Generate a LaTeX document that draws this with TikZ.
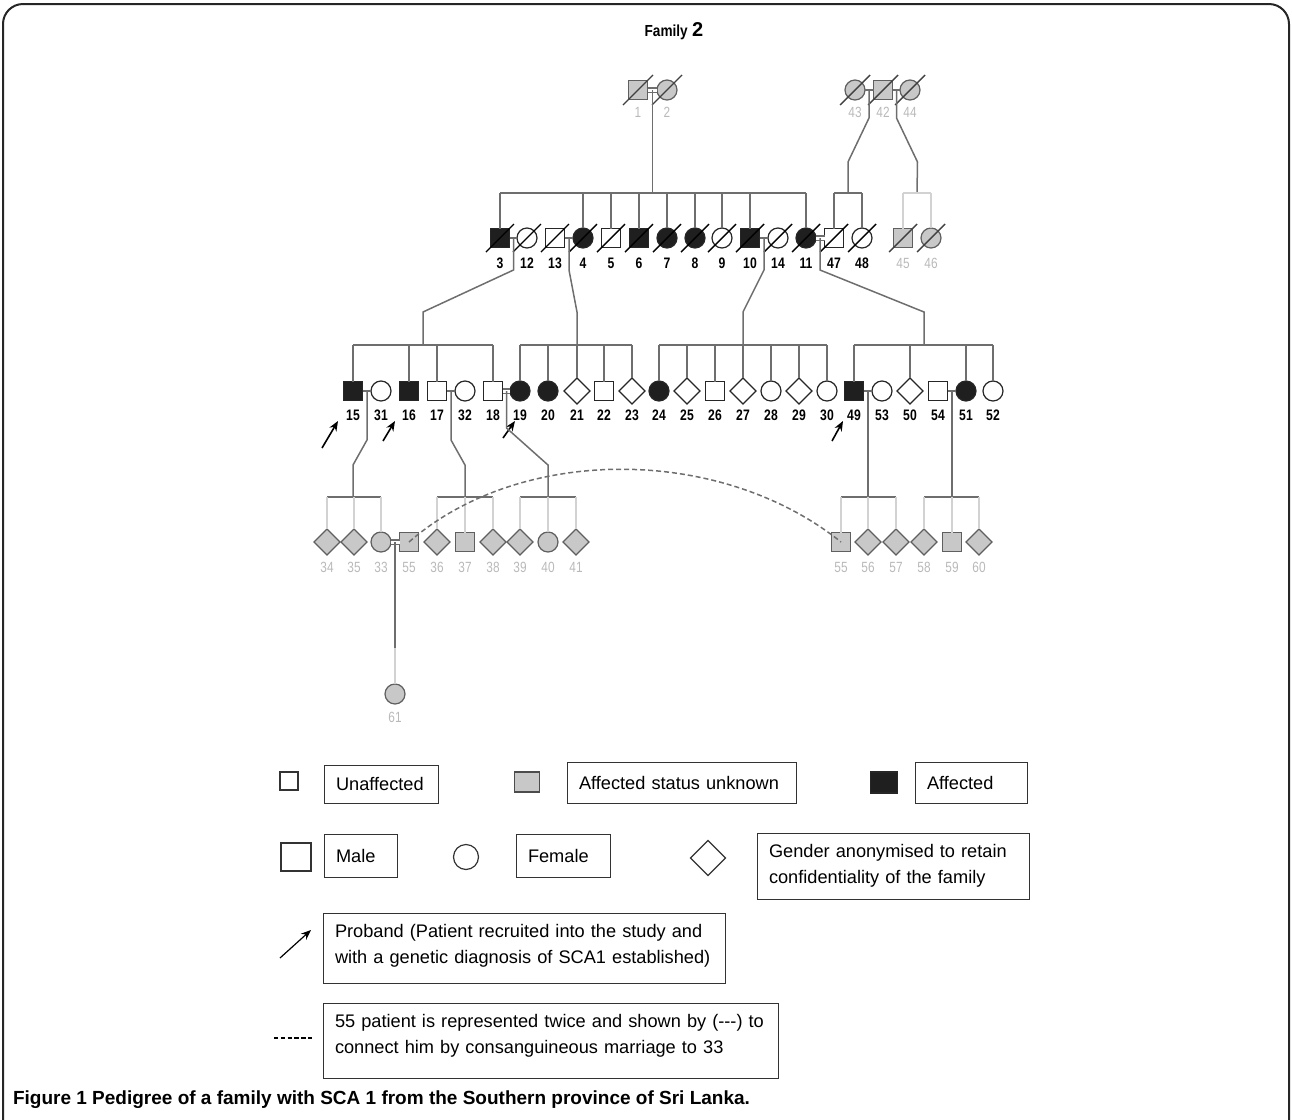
\documentclass[tikz,border=0pt]{standalone}
\usepackage{fontspec}
\setmainfont{Liberation Sans}
\usepackage{graphicx}
\usetikzlibrary{shapes.geometric}
\usetikzlibrary{calc}
\usetikzlibrary{arrows.meta}

\definecolor{linegray}{RGB}{110,110,110}
\definecolor{lightline}{RGB}{210,210,210}
\definecolor{unkfill}{RGB}{200,200,200}
\definecolor{unkdraw}{RGB}{95,95,95}
\definecolor{lblgray}{RGB}{185,185,185}

\newcommand{\pedno}[1]{\scalebox{0.8}[1]{#1}}
\hyphenpenalty=10000
\exhyphenpenalty=10000

\begin{document}
\begin{tikzpicture}[x=0.5pt,y=-0.5pt] % 1 unit = 1 pixel of the original figure
    \tikzstyle{ind}=[draw=black!85, line width=0.6pt, inner sep=0pt, outer sep=0pt]
    \tikzstyle{mU}=[ind, rectangle, minimum size=9.5pt, fill=white]
    \tikzstyle{mA}=[mU, fill=black!88]
    \tikzstyle{mG}=[mU, fill=unkfill, draw=unkdraw]
    \tikzstyle{fU}=[ind, circle, minimum size=10pt, fill=white]
    \tikzstyle{fA}=[fU, fill=black!88]
    \tikzstyle{fG}=[fU, fill=unkfill, draw=unkdraw]
    \tikzstyle{dU}=[ind, diamond, minimum size=13pt, fill=white]
    \tikzstyle{dG}=[dU, fill=unkfill, draw=unkdraw]
    \tikzstyle{num}=[font=\bfseries\fontsize{7.6}{9}\selectfont, inner sep=0pt]
    \tikzstyle{numg}=[font=\fontsize{7.4}{9}\selectfont, text=lblgray, inner sep=0pt]
    \tikzstyle{link}=[draw=linegray, line width=0.75pt]
    \tikzstyle{linkl}=[draw=lightline, line width=0.75pt]
    \tikzstyle{marr2}=[draw=linegray, line width=0.6pt, double=white, double distance=1.5pt]
    \tikzstyle{dead}=[line width=0.7pt, black]
    \tikzstyle{deadg}=[line width=0.7pt, black!75]
    \tikzstyle{proband}=[-{Stealth[length=5pt, width=4pt]}, line width=0.8pt, black]
    \tikzstyle{consang}=[draw=linegray, line width=0.75pt, dash pattern=on 2.5pt off 1.5pt]
    \tikzstyle{lgbox}=[draw=black!80, line width=0.5pt, inner xsep=6pt, inner ysep=0pt, align=left,
                       font=\fontsize{9.1}{13}\selectfont]

    \useasboundingbox (0,0) rectangle (1292,1120);
    \draw[line width=1pt, black!85, rounded corners=10] (3,1120) -- (3,4) -- (1289,4) -- (1289,1120);

    \node[font=\bfseries\fontsize{8}{9}\selectfont] (title) at (674,31) {\scalebox{0.85}[1]{Family} {\fontsize{10}{10}\selectfont 2}};

    % generation I
    \node[mG] (p1) at (638,90) {};
    \node[fG] (p2) at (667,90) {};
    \node[fG] (p43) at (855,90) {};
    \node[mG] (p42) at (883,90) {};
    \node[fG] (p44) at (910,90) {};
    \foreach \n/\x in {1/638, 2/667, 43/855, 42/883, 44/910} {
        \node[numg] (l\n) at (\x,112) {\pedno{\n}};
        \draw[deadg] ([shift={(-15,15)}]p\n.center) -- ([shift={(15,-15)}]p\n.center);
    }
    \draw[marr2] (p1) -- (p2);
    \draw[link] (p43) -- (p42);
    \draw[link] (p42) -- (p44);

    % generation II
    \foreach \n/\x/\s in {3/500/mA, 12/527/fU, 13/555/mU, 4/583/fA, 5/611/mU, 6/639/mA, 7/667/fA, 8/695/fA,
                          9/722/fU, 10/750/mA, 14/778/fU, 11/806/fA, 47/834/mU, 48/862/fU} {
        \node[\s] (p\n) at (\x,238) {};
        \node[num] (l\n) at (\x,263) {\pedno{\n}};
        \draw[dead] ([shift={(-14,14)}]p\n.center) -- ([shift={(14,-14)}]p\n.center);
    }
    \foreach \n/\x/\s in {45/903/mG, 46/931/fG} {
        \node[\s] (p\n) at (\x,238) {};
        \node[numg] (l\n) at (\x,263) {\pedno{\n}};
        \draw[deadg] ([shift={(-14,14)}]p\n.center) -- ([shift={(14,-14)}]p\n.center);
    }
    \coordinate (m1) at ($(p1)!.5!(p2)$);
    \coordinate (s3) at (652.5,193);
    \draw[link] (m1) -- (s3);
    \draw[link] (p3.north |- s3) -- (p11.north |- s3);
    \foreach \n in {3,4,5,6,7,8,9,10,11}
        \draw[link] (p\n.north) -- (p\n.north |- s3);
    \coordinate (m43) at ($(p43)!.5!(p42)$);
    \coordinate (s47) at (848,193);
    \draw[link] (m43) -- ++(0,28) -- ++(-21,44) -- (s47);
    \draw[link] (p47.north |- s47) -- (p48.north |- s47);
    \draw[link] (p47.north) -- (p47.north |- s47);
    \draw[link] (p48.north) -- (p48.north |- s47);
    \coordinate (m42) at ($(p42)!.5!(p44)$);
    \coordinate (s45) at (917,193);
    \draw[link] (m42) -- ++(0,28) -- ++(21,44) -- (s45);
    \draw[linkl] (p45.north |- s45) -- (p46.north |- s45);
    \draw[linkl] (p45.north) -- (p45.north |- s45);
    \draw[linkl] (p46.north) -- (p46.north |- s45);
    \draw[link] (p3) -- (p12);
    \draw[link] (p13) -- (p4);
    \draw[link] (p10) -- (p14);
    \draw[marr2] (p11) -- (p47);

    % generation III
    \foreach \n/\x/\s in {15/353/mA, 31/381/fU, 16/409/mA, 17/437/mU, 32/465/fU, 18/493/mU, 19/520/fA, 20/548/fA,
                          21/577/dU, 22/604/mU, 23/632/dU, 24/659/fA, 25/687/dU, 26/715/mU, 27/743/dU, 28/771/fU,
                          29/799/dU, 30/827/fU, 49/854/mA, 53/882/fU, 50/910/dU, 54/938/mU, 51/966/fA, 52/993/fU} {
        \node[\s] (p\n) at (\x,391) {};
        \node[num] (l\n) at (\x,415) {\pedno{\n}};
    }
    \coordinate (m3) at ($(p3)!.5!(p12)$);
    \coordinate (s15) at (423,345);
    \draw[link] (m3) -- ++(0,32) -- ++(-90.5,42) -- (s15);
    \draw[link] (p15.north |- s15) -- (p18.north |- s15);
    \foreach \n in {15,16,17,18}
        \draw[link] (p\n.north) -- (p\n.north |- s15);
    \coordinate (m13) at ($(p13)!.5!(p4)$);
    \coordinate (s19) at (577,345);
    \draw[link] (m13) -- ++(0,32) -- ++(8,42) -- (s19);
    \draw[link] (p19.north |- s19) -- (p23.north |- s19);
    \foreach \n in {19,20,21,22,23}
        \draw[link] (p\n.north) -- (p\n.north |- s19);
    \coordinate (m10) at ($(p10)!.5!(p14)$);
    \coordinate (s24) at (743,345);
    \draw[link] (m10) -- ++(0,32) -- ++(-21,42) -- (s24);
    \draw[link] (p24.north |- s24) -- (p30.north |- s24);
    \foreach \n in {24,25,26,27,28,29,30}
        \draw[link] (p\n.north) -- (p\n.north |- s24);
    \coordinate (m11) at ($(p11)!.5!(p47)$);
    \coordinate (s49) at (924,345);
    \draw[link] (m11) -- ++(0,32) -- ++(104,42) -- (s49);
    \draw[link] (p49.north |- s49) -- (p52.north |- s49);
    \foreach \n in {49,50,51,52}
        \draw[link] (p\n.north) -- (p\n.north |- s49);
    \draw[link] (p15) -- (p31);
    \draw[link] (p17) -- (p32);
    \draw[marr2] (p18) -- (p19);
    \draw[link] (p49) -- (p53);
    \draw[link] (p54) -- (p51);

    % probands
    \foreach \n/\tx/\ty/\hx/\hy in {15/322/448/338/421, 16/383/441/395/421, 19/503/438/515/421, 49/832/441/843/421} {
        \coordinate (a\n) at (\tx,\ty);
        \coordinate (h\n) at (\hx,\hy);
        \draw[proband] (a\n) -- (h\n);
    }

    % generation IV
    \foreach \n/\x/\s/\t in {34/327/dG/34, 35/354/dG/35, 33/381/fG/33, 55/409/mG/55, 36/437/dG/36, 37/465/mG/37,
                             38/493/dG/38, 39/520/dG/39, 40/548/fG/40, 41/576/dG/41, 55r/841/mG/55, 56/868/dG/56,
                             57/896/dG/57, 58/924/dG/58, 59/952/mG/59, 60/979/dG/60} {
        \node[\s] (p\n) at (\x,542) {};
        \node[numg] (l\n) at (\x,567) {\pedno{\t}};
    }
    \coordinate (m15) at ($(p15)!.5!(p31)$);
    \coordinate (s34) at (353,497);
    \draw[link] (m15) -- ++(0,49) -- ++(-14,25) -- (s34);
    \draw[link] (p34.north |- s34) -- (p33.north |- s34);
    \foreach \n in {34,35,33}
        \draw[linkl] (p\n.north) -- (p\n.north |- s34);
    \coordinate (m17) at ($(p17)!.5!(p32)$);
    \coordinate (s36) at (465,497);
    \draw[link] (m17) -- ++(0,49) -- ++(14,25) -- (s36);
    \draw[link] (p36.north |- s36) -- (p38.north |- s36);
    \foreach \n in {36,37,38}
        \draw[linkl] (p\n.north) -- (p\n.north |- s36);
    \coordinate (m18) at ($(p18)!.5!(p19)$);
    \coordinate (s39) at (548,497);
    \draw[link] (m18) -- ++(0,37) -- ++(41.5,37) -- (s39);
    \draw[link] (p39.north |- s39) -- (p41.north |- s39);
    \foreach \n in {39,40,41}
        \draw[linkl] (p\n.north) -- (p\n.north |- s39);
    \coordinate (m49) at ($(p49)!.5!(p53)$);
    \coordinate (s56) at (868,497);
    \draw[link] (m49) -- (s56);
    \draw[link] (p55r.north |- s56) -- (p57.north |- s56);
    \foreach \n in {55r,56,57}
        \draw[linkl] (p\n.north) -- (p\n.north |- s56);
    \coordinate (m54) at ($(p54)!.5!(p51)$);
    \coordinate (s58) at (952,497);
    \draw[link] (m54) -- (s58);
    \draw[link] (p58.north |- s58) -- (p60.north |- s58);
    \foreach \n in {58,59,60}
        \draw[linkl] (p\n.north) -- (p\n.north |- s58);
    \draw[marr2] (p33) -- (p55);
    \draw[consang] (p55.center) .. controls (520,445) and (720,445) .. (p55r.center);

    % generation V
    \node[fG] (p61) at (395,694) {};
    \node[numg] (l61) at (395,717) {\pedno{61}};
    \coordinate (m33) at ($(p33)!.5!(p55)$);
    \draw[link] (m33) -- ++(0,106) coordinate (k61);
    \draw[linkl] (k61) -- (p61.north);

    % legend
    \node[ind, draw=black!80, minimum size=9pt] (kU) at (289,781) {};
    \node[lgbox, text width=45pt, minimum height=19pt] (tU) at (381,784) {Unaffected};
    \node[ind, fill=unkfill, draw=black!70, minimum width=12.5pt, minimum height=10pt] (kG) at (527,782) {};
    \node[lgbox, text width=102.5pt, minimum height=20.5pt] (tG) at (681.5,782.5) {\mbox{Affected status unknown}};
    \node[ind, fill=black!88, minimum width=13.5pt, minimum height=10.5pt] (kA) at (884,782.5) {};
    \node[lgbox, text width=44pt, minimum height=20.5pt] (tA) at (971,782.5) {Affected};
    \node[ind, draw=black!80, minimum width=15pt, minimum height=14pt] (kM) at (296,857) {};
    \node[lgbox, text width=24.5pt, minimum height=21.5pt] (tM) at (360.5,855.5) {Male};
    \node[ind, circle, draw=black!80, minimum size=12.5pt] (kF) at (466,857) {};
    \node[lgbox, text width=35pt, minimum height=21.5pt] (tF) at (563,855.5) {Female};
    \node[ind, diamond, draw=black!80, minimum size=17.5pt] (kD) at (708,858) {};
    \node[lgbox, text width=124pt, minimum height=33pt] (tD) at (893,866) {\mbox{Gender anonymised to retain}\\\mbox{confidentiality of the family}};
    \coordinate (kPa) at (280,958);
    \coordinate (kPb) at (311,930);
    \draw[proband, line width=0.6pt] (kPa) -- (kPb);
    \node[lgbox, text width=189pt, minimum height=35pt] (tP) at (524,948) {\mbox{Proband (Patient recruited into the study and}\\\mbox{with a genetic diagnosis of SCA1 established)}\\[-9pt]\mbox{}};
    \coordinate (kCa) at (274,1038);
    \coordinate (kCb) at (313,1038);
    \draw[line width=0.6pt, dash pattern=on 2.2pt off 1.2pt] (kCa) -- (kCb);
    \node[lgbox, text width=215.5pt, minimum height=37.5pt] (tC) at (550.5,1040.5) {\mbox{55 patient is represented twice and shown by ({-}{-}{-}) to}\\\mbox{connect him by consanguineous marriage to 33}\\[-6.5pt]\mbox{}};

    % caption
    \node[anchor=west, font=\bfseries\fontsize{9.5}{10}\selectfont] (cap) at (6,1100) {Figure 1 Pedigree of a family with SCA 1 from the Southern province of Sri Lanka.};
\end{tikzpicture}
\end{document}
